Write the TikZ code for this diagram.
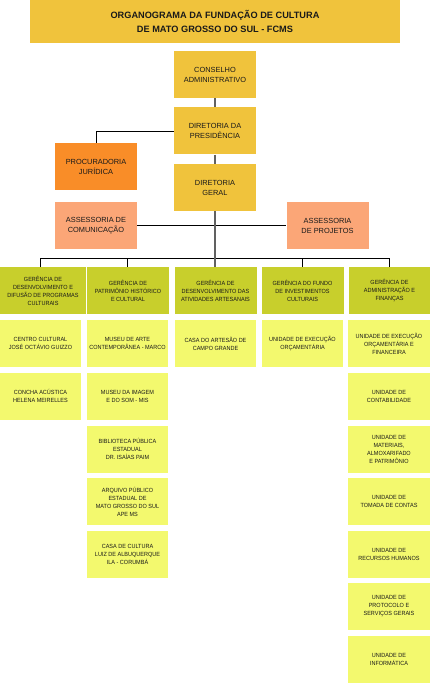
\documentclass[tikz,border=0pt]{standalone}
\usepackage{fontspec}
\setmainfont{Liberation Sans}
\newfontfamily\estreita{Liberation Sans}[FakeStretch=0.92]
\definecolor{ouro}{HTML}{F0C33C}
\definecolor{laranja}{HTML}{F98D28}
\definecolor{salmao}{HTML}{FBA677}
\definecolor{oliva}{HTML}{C8CF2C}
\definecolor{amarelo}{HTML}{F3F96E}
\definecolor{texto}{HTML}{1A1A1A}

\begin{document}
\begin{tikzpicture}[x=1pt, y=-1pt,
  caixa/.style={fill=#1, text=texto, align=center, inner sep=0pt,
    minimum width=82pt, minimum height=47pt, font=\fontsize{7.4}{10}\selectfont},
  gerencia/.style={fill=oliva, text=texto, align=center, inner sep=0pt,
    minimum width=82pt, minimum height=47pt, font=\estreita\fontsize{6}{8}\selectfont},
  unidade/.style={fill=amarelo, text=texto, align=center, inner sep=0pt,
    minimum width=82pt, minimum height=47pt, font=\estreita\fontsize{6}{8}\selectfont},
  tronco/.style={draw=black!62, line width=2pt},
  ligacao/.style={draw=black, line width=0.9pt}]
  \useasboundingbox (0,0) rectangle (430,684);

  % Titulo
  \node[fill=ouro, text=texto, align=center, minimum width=370pt, minimum height=43pt,
    font=\bfseries\fontsize{9.2}{14}\selectfont] (titulo) at (215,21.5)
    {ORGANOGRAMA DA FUNDAÇÃO DE CULTURA\\DE MATO GROSSO DO SUL - FCMS};

  % Direcao
  \node[caixa=ouro]    (conselho)     at (215,74.5)   {CONSELHO\\ADMINISTRATIVO};
  \node[caixa=ouro]    (presidencia)  at (215,131)    {DIRETORIA DA\\PRESIDÊNCIA};
  \node[caixa=laranja] (procuradoria) at (96,167)     {PROCURADORIA\\JURÍDICA};
  \node[caixa=ouro]    (geral)        at (215,187.5)  {DIRETORIA\\GERAL};
  \node[caixa=salmao]  (comunicacao)  at (96,225.5)   {ASSESSORIA DE\\COMUNICAÇÃO};
  \node[caixa=salmao]  (projetos)     at (327.5,225.5){ASSESSORIA\\DE PROJETOS};

  % Gerencias
  \node[gerencia, minimum width=86pt] (ger1) at (43,290.5)
    {GERÊNCIA DE\\DESENVOLVIMENTO E\\DIFUSÃO DE PROGRAMAS\\CULTURAIS};
  \node[gerencia] (ger2) at (128,290.5)   {GERÊNCIA DE\\PATRIMÔNIO HISTÓRICO\\E CULTURAL};
  \node[gerencia] (ger3) at (215.5,290.5) {GERÊNCIA DE\\DESENVOLVIMENTO DAS\\ATIVIDADES ARTESANAIS};
  \node[gerencia] (ger4) at (302.5,290.5) {GERÊNCIA DO FUNDO\\DE INVESTIMENTOS\\CULTURAIS};
  \node[gerencia] (ger5) at (389.5,290.5) {GERÊNCIA DE\\ADMINISTRAÇÃO E\\FINANÇAS};

  % Unidades
  \node[unidade, minimum width=81pt] (un11) at (40.5,343.5) {CENTRO CULTURAL\\JOSÉ OCTÁVIO GUIZZO};
  \node[unidade, minimum width=81pt] (un12) at (40.5,396)   {CONCHA ACÚSTICA\\HELENA MEIRELLES};

  \node[unidade, minimum width=81pt] (un21) at (127.5,343.5) {MUSEU DE ARTE\\CONTEMPORÂNEA - MARCO};
  \node[unidade, minimum width=81pt] (un22) at (127.5,396)   {MUSEU DA IMAGEM\\E DO SOM - MIS};
  \node[unidade, minimum width=81pt] (un23) at (127.5,449)   {BIBLIOTECA PÚBLICA\\ESTADUAL\\DR. ISAÍAS PAIM};
  \node[unidade, minimum width=81pt] (un24) at (127.5,501.5) {ARQUIVO PÚBLICO\\ESTADUAL DE\\MATO GROSSO DO SUL\\APE MS};
  \node[unidade, minimum width=81pt] (un25) at (127.5,554)   {CASA DE CULTURA\\LUIZ DE ALBUQUERQUE\\ILA - CORUMBÁ};

  \node[unidade, minimum width=81pt] (un31) at (215.5,343.5) {CASA DO ARTESÃO DE\\CAMPO GRANDE};

  \node[unidade, minimum width=81pt] (un41) at (302.5,343.5) {UNIDADE DE EXECUÇÃO\\ORÇAMENTÁRIA};

  \node[unidade] (un51) at (389,343.5) {UNIDADE DE EXECUÇÃO\\ORÇAMENTÁRIA E\\FINANCEIRA};
  \node[unidade] (un52) at (389,396)   {UNIDADE DE\\CONTABILIDADE};
  \node[unidade] (un53) at (389,449)   {UNIDADE DE\\MATERIAIS,\\ALMOXARIFADO\\E PATRIMÔNIO};
  \node[unidade] (un54) at (389,501.5) {UNIDADE DE\\TOMADA DE CONTAS};
  \node[unidade] (un55) at (389,554)   {UNIDADE DE\\RECURSOS HUMANOS};
  \node[unidade] (un56) at (389,606.5) {UNIDADE DE\\PROTOCOLO E\\SERVIÇOS GERAIS};
  \node[unidade] (un57) at (389,659.5) {UNIDADE DE\\INFORMÁTICA};

  % Ligacoes
  \coordinate (barra) at (215,258);
  \draw[ligacao] (presidencia.west) -| (procuradoria.north);
  \draw[ligacao] (comunicacao) -- (projetos);
  \draw[ligacao] (barra -| un11) -- (barra -| un51);
  \draw[ligacao] (barra -| un11) -- (ger1.north -| un11);
  \draw[ligacao] (barra -| un21) -- (ger2.north -| un21);
  \draw[ligacao] (barra -| un41) -- (ger4.north -| un41);
  \draw[ligacao] (barra -| un51) -- (ger5.north -| un51);
  \draw[tronco] (conselho) -- (presidencia);
  \draw[tronco] (presidencia) -- (geral);
  \draw[tronco] (geral.south) -- (geral.south |- ger3.north);
\end{tikzpicture}
\end{document}
